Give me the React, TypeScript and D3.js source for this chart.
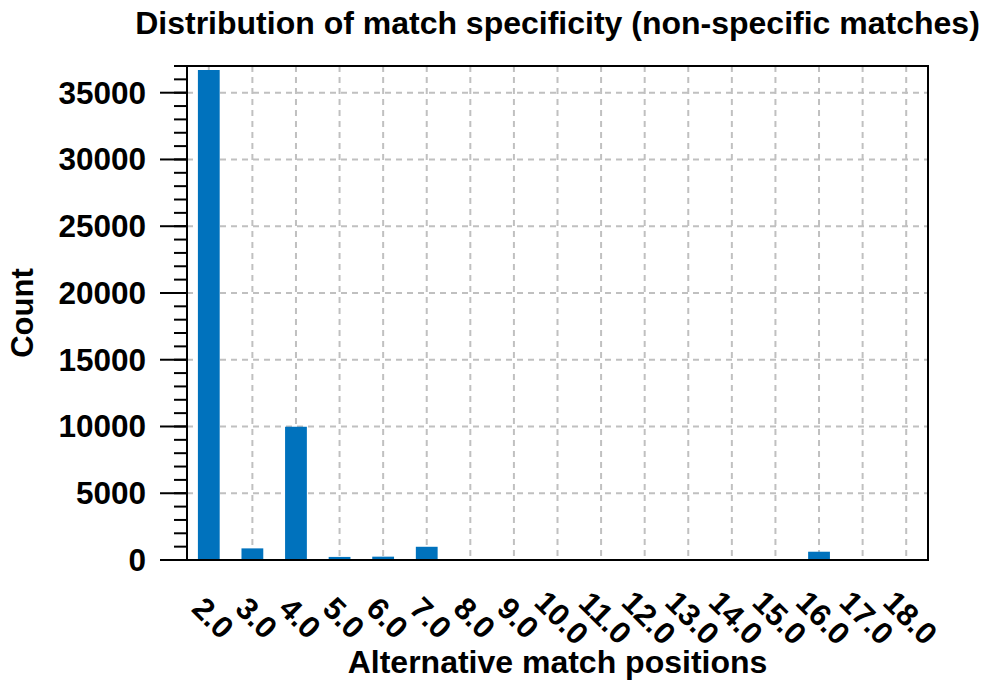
import React from "react";
import * as d3 from "d3";

const categories = ["2.0","3.0","4.0","5.0","6.0","7.0","8.0","9.0","10.0","11.0","12.0","13.0","14.0","15.0","16.0","17.0","18.0"];
const counts = [36700, 870, 9980, 230, 250, 990, 10, 5, 6, 4, 3, 3, 2, 2, 620, 3, 2];
const yTicks = [0, 5000, 10000, 15000, 20000, 25000, 30000, 35000];
const yMinorTicks = d3.range(0, 37001, 1000);

const W = 986, H = 684;
const M = { left: 187, right: 928, top: 66, bottom: 560 };
const FONT = "'Liberation Sans', Arial, Helvetica, sans-serif";
const BLUE = "#0072BD";

export default function App() {
  const x = d3.scaleBand<string>().domain(categories).range([M.left, M.right]).padding(0);
  const y = d3.scaleLinear().domain([0, 37000]).range([M.bottom, M.top]);
  const step = x.bandwidth();
  const barW = step * 0.5;
  const cx = (c: string) => (x(c) as number) + step / 2;

  return (
    <svg width={W} height={H} style={{ position: "absolute", left: 0, top: 0, background: "#fff" }} fontFamily={FONT}>
      {/* grid */}
      <g stroke="#c0c0c0" strokeWidth={2} strokeDasharray="6,5">
        {categories.map((c) => (
          <line key={"gx" + c} x1={cx(c)} x2={cx(c)} y1={M.top} y2={M.bottom} />
        ))}
        {yTicks.filter((t) => t > 0).map((t) => (
          <line key={"gy" + t} x1={M.left} x2={M.right} y1={y(t)} y2={y(t)} />
        ))}
      </g>
      {/* bars */}
      {categories.map((c, i) => (
        <rect key={"b" + c} x={cx(c) - barW / 2} width={barW} y={y(counts[i])} height={M.bottom - y(counts[i])} fill={BLUE} />
      ))}
      {/* frame */}
      <rect x={M.left} y={M.top} width={M.right - M.left} height={M.bottom - M.top} fill="none" stroke="#000" strokeWidth={2} />
      {/* y ticks */}
      <g stroke="#000" strokeWidth={2}>
        {yMinorTicks.map((t) => (
          <line key={"m" + t} x1={M.left - 13} x2={M.left} y1={y(t)} y2={y(t)} />
        ))}
        {yTicks.map((t) => (
          <line key={"M" + t} x1={M.left - 27} x2={M.left} y1={y(t)} y2={y(t)} />
        ))}
      </g>
      <g fontWeight="bold" fill="#000">
        {yTicks.map((t) => (
          <text key={"yl" + t} x={146} y={y(t)} fontSize={31.5} textAnchor="end" dominantBaseline="central">
            {t}
          </text>
        ))}
        {categories.map((c) => (
          <text key={"xl" + c} fontSize={31} transform={`translate(${cx(c) + 4},${618}) rotate(45)`} textAnchor="middle" dominantBaseline="central">
            {c}
          </text>
        ))}
        <text x={(M.left + M.right) / 2} y={34} fontSize={32} textAnchor="middle">
          Distribution of match specificity (non-specific matches)
        </text>
        <text x={(M.left + M.right) / 2} y={673} fontSize={32} textAnchor="middle">
          Alternative match positions
        </text>
        <text transform={`translate(33,${(M.top + M.bottom) / 2}) rotate(-90)`} fontSize={31} textAnchor="middle">
          Count
        </text>
      </g>
    </svg>
  );
}
